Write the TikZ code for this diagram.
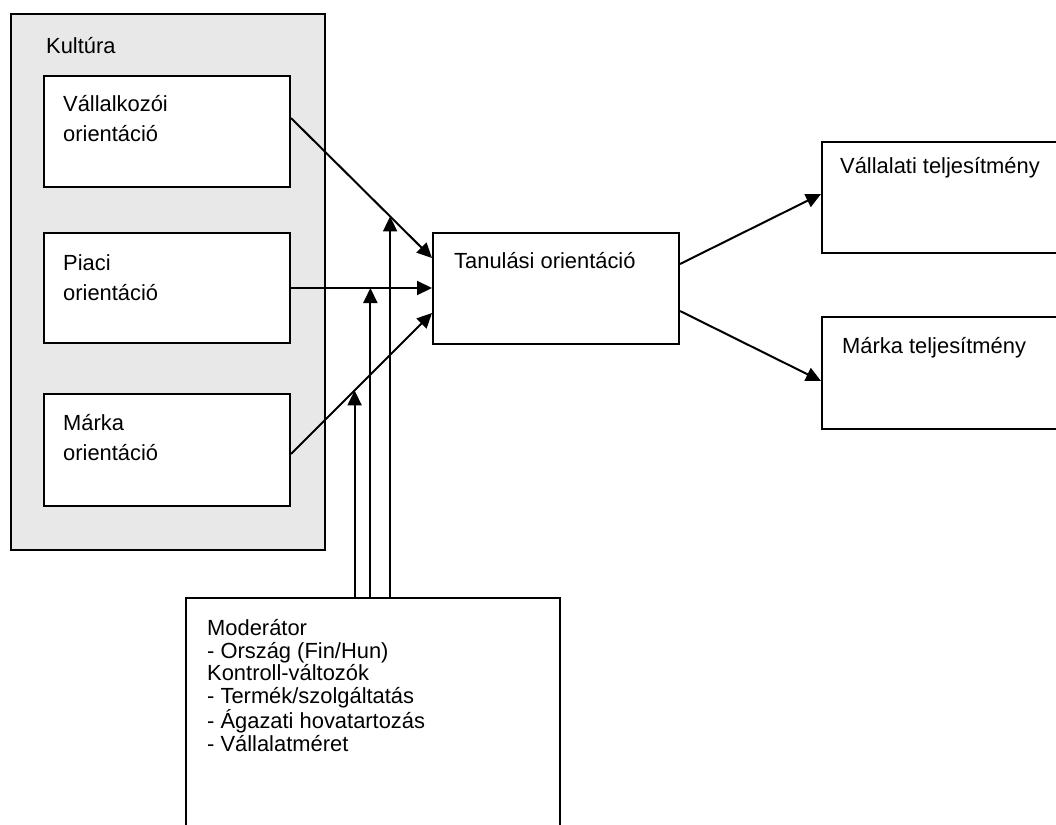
\documentclass[tikz,border=0pt]{standalone}
\usepackage{fontspec}
\setmainfont{Liberation Sans}
\usetikzlibrary{arrows.meta,calc}
\definecolor{panelgray}{HTML}{E8E8E8}
\begin{document}
\begin{tikzpicture}[x=1bp,y=-1bp,
  box/.style={draw=black,line width=2bp,fill=white,inner sep=0pt,anchor=north west},
  lbl/.style={inner sep=0pt,anchor=base west,align=left,font=\fontsize{21.9bp}{30bp}\selectfont},
  arr/.style={line width=2bp,-{Triangle[length=15bp,width=14bp]}}]
\useasboundingbox (0,0) rectangle (1056,825);
\clip (0,0) rectangle (1056,825);

% culture panel with its three orientation boxes
\node[box,fill=panelgray,minimum width=314bp,minimum height=536bp] (kultura) at (10,13) {};
\node[lbl] (kulturalbl) at (46,53) {Kultúra};
\node[box,minimum width=246bp,minimum height=111bp] (vall) at (43,75) {};
\node[box,minimum width=246bp,minimum height=110bp] (piaci) at (43,232) {};
\node[box,minimum width=246bp,minimum height=112bp] (marka) at (43,393) {};
% multi-line labels: the base anchor sits on the last line
\node[lbl] (vallt) at (63,141.5) {Vállalkozói\\orientáció};
\node[lbl] (piacit) at (63,300.5) {Piaci\\orientáció};
\node[lbl] (markat) at (63,460) {Márka\\orientáció};

% learning orientation and outcomes
\node[box,minimum width=246bp,minimum height=111bp] (tanul) at (432,232) {};
\node[lbl] (tanult) at (454,268) {Tanulási orientáció};
\node[box,minimum width=260bp,minimum height=111bp] (vtelj) at (821,141) {};
\node[lbl] (vteljt) at (840,173) {Vállalati teljesítmény};
\node[box,minimum width=260bp,minimum height=112bp] (mtelj) at (821,316) {};
\node[lbl] (mteljt) at (842,353) {Márka teljesítmény};

% moderator and control variables
\node[box,minimum width=374bp,minimum height=260bp] (moder) at (185,597) {};
\node[lbl,font=\fontsize{21.9bp}{22.8bp}\selectfont] (modert) at (207,751)
  {Moderátor\\- Ország (Fin/Hun)\\Kontroll-változók\\- Termék/szolgáltatás\\- Ágazati hovatartozás\\- Vállalatméret};

% connectors into the learning orientation box
\draw[arr] ([yshift=13.5bp]vall.east) -- ([yshift=30.5bp]tanul.west) coordinate[pos=0.703] (j1);
\draw[arr] (piaci.east) -- (piaci.east -| tanul.west) coordinate[pos=0.563] (j2);
\draw[arr] ([yshift=-4bp]marka.east) -- ([yshift=-24.5bp]tanul.west) coordinate[pos=0.451] (j3);

% moderating effects
\draw[arr] (moder.north -| j1) -- (j1);
\draw[arr] (moder.north -| j2) -- (j2);
\draw[arr] (moder.north -| j3) -- (j3);

% outcome connectors
\draw[arr] ([yshift=24.5bp]tanul.east) -- ([yshift=3.5bp]vtelj.west);
\draw[arr] ([yshift=-22.5bp]tanul.east) -- ([yshift=-8bp]mtelj.west);
\end{tikzpicture}
\end{document}
